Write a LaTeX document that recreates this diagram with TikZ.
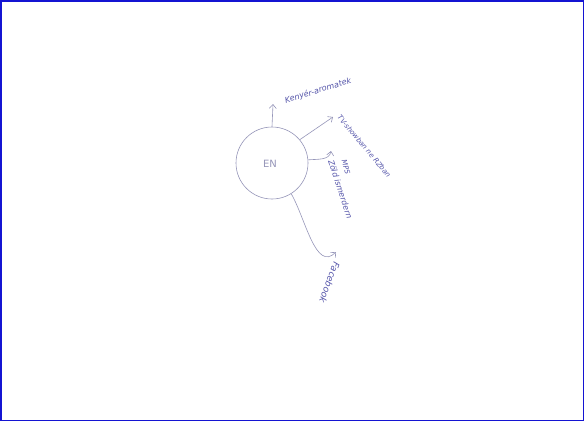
\documentclass[tikz,border=0pt]{standalone}
\usepackage{fontspec}
\setmainfont{DejaVu Sans}
\usetikzlibrary{arrows.meta}
\definecolor{pen}{RGB}{85,85,170}
\definecolor{penline}{RGB}{150,150,185}
\definecolor{frameblue}{RGB}{20,20,210}
\begin{document}
\begin{tikzpicture}[x=1pt,y=-1pt,
  hand/.style={font=\fontsize{8}{9}\selectfont\itshape, text=pen, inner sep=0pt},
  conn/.style={draw=penline, line width=0.6pt, -{Straight Barb[length=4pt,width=7pt]}}]
\useasboundingbox (0,0) rectangle (584,421);
\fill[white] (0,0) rectangle (584,421);
\draw[frameblue, line width=1.5pt] (0.75,0.75) rectangle (583.25,420.25);
\node[circle, draw=penline, line width=0.6pt, minimum size=72pt, inner sep=0pt] (en) at (272,163) {};
\node[font=\fontsize{10}{12}\selectfont, text=penline] (enlabel) at (270,164) {EN};
\coordinate (a1) at (273,104);
\coordinate (a2) at (333,117);
\coordinate (a3) at (331,151);
\coordinate (a4) at (336,252);
\draw[conn] (en.north) -- (a1);
\draw[conn] (en.40) -- (a2);
\draw[conn] (en.5) to[out=5,in=-100] (a3);
\draw[conn] (en.-58) to[out=-60,in=-135] (a4);
\node[hand, rotate=17, anchor=west] (t1) at (285,101) {Kenyér-aromatek};
\node[hand, font=\fontsize{7}{8}\selectfont\itshape, rotate=-50, anchor=west] (t2) at (339,116) {TV-showban ne RZban};
\node[hand, font=\fontsize{7}{8}\selectfont\itshape, rotate=-75, anchor=west] (t3a) at (344,160) {MPS};
\node[hand, rotate=-72, anchor=west] (t3b) at (331,160) {Zöld ismerdern};
\node[hand, font=\fontsize{9}{10}\selectfont\itshape, rotate=-110, anchor=west] (t4) at (337,262) {Facebook};
\end{tikzpicture}
\end{document}
